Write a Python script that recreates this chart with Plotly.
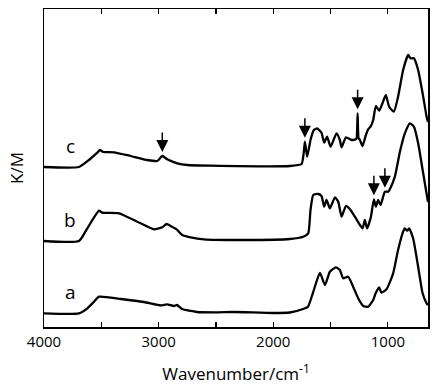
import numpy as np
import plotly.graph_objects as go

# Wavenumbers (cm-1) and K/M values (arbitrary units, offsets included)
wn_a = [4000, 3695, 3622, 3564, 3520, 3330, 3128, 2980, 2927, 2866, 2840, 2796, 2666, 2490, 2343, 2000, 1855,
        1739, 1697, 1654, 1593, 1549, 1506, 1454, 1419, 1390, 1346, 1303, 1259, 1215, 1172, 1128, 1105,
        1076, 1056, 1012, 954, 911, 867, 852, 832, 815, 780, 736, 697, 662, 650]
km_a = [13.7, 13.7, 18.7, 25.3, 30.3, 28.0, 25.0, 21.7, 22.7, 21.0, 22.0, 18.0, 15.0, 14.7, 15.0, 14.0, 14.5,
        18.0, 20.3, 34.0, 54.0, 42.0, 55.3, 59.7, 57.0, 48.7, 50.3, 40.3, 28.7, 21.0, 20.3, 27.0, 34.3,
        39.7, 34.3, 37.7, 53.7, 77.0, 95.3, 98.7, 96.3, 98.7, 88.7, 60.3, 33.7, 23.7, 22.0]

wn_b = [4000, 3695, 3622, 3520, 3492, 3346, 3186, 3041, 2997, 2968, 2930, 2895, 2843, 2794, 2721, 2605, 2256,
        1855, 1739, 1695, 1675, 1651, 1608, 1579, 1556, 1535, 1506, 1462, 1433, 1404, 1366, 1331, 1288,
        1244, 1221, 1201, 1181, 1148, 1122, 1105, 1085, 1064, 1026, 997, 983, 939, 895, 852, 808, 773,
        736, 692, 657, 650]
km_b = [86.0, 86.0, 98.7, 116.3, 114.3, 113.7, 105.3, 97.7, 98.7, 99.7, 103.0, 101.0, 97.7, 92.0, 89.7, 87.7, 87.0,
        88.0, 90.3, 93.7, 117.0, 132.0, 133.0, 131.0, 120.3, 127.0, 118.7, 129.7, 125.3, 110.3, 121.0, 117.7, 110.3,
        102.0, 98.7, 107.0, 98.7, 110.3, 127.7, 120.3, 127.0, 122.0, 135.3, 135.3, 137.7, 150.3, 175.3, 193.7, 203.7, 200.3,
        183.7, 153.7, 129.7, 125.0]

wn_c = [4000, 3695, 3608, 3535, 3512, 3483, 3390, 3244, 3099, 3012, 2968, 2925, 2837, 2750, 2547, 1855,
        1753, 1733, 1724, 1704, 1675, 1646, 1617, 1579, 1556, 1530, 1500, 1448, 1419, 1404, 1366, 1317,
        1279, 1272, 1264, 1256, 1244, 1221, 1192, 1172, 1151, 1128, 1105, 1076, 1047, 1018, 989, 948, 911,
        867, 823, 803, 773, 736, 697, 662, 650]
km_c = [160.0, 160.0, 167.0, 174.3, 177.0, 175.0, 174.7, 171.0, 167.0, 166.0, 171.0, 167.7, 163.7, 162.0, 161.3, 161.0,
        163.0, 175.3, 185.3, 170.3, 187.0, 197.0, 198.7, 194.3, 184.3, 190.3, 180.3, 193.7, 187.0, 179.7, 189.7, 187.0,
        187.7, 189.0, 213.7, 189.0, 187.0, 181.0, 192.0, 197.7, 200.3, 207.0, 221.0, 216.3, 223.7, 232.0, 220.3, 215.3, 230.3,
        257.0, 272.0, 268.7, 268.7, 257.0, 233.7, 210.3, 205.0]

series_names = ["a", "b", "c"]
arrows_b = [1122, 1026]
arrows_c = [2968, 1724, 1264]

major_ticks = [4000, 3000, 2000, 1000]
minor_ticks = [3500, 2500, 1500]

FONT = "Open Sans, Noto Sans, DejaVu Sans, sans-serif"

fig = go.Figure()
for wn, km in [(wn_a, km_a), (wn_b, km_b), (wn_c, km_c)]:
    fig.add_trace(go.Scatter(x=wn, y=km, mode="lines",
                             line=dict(color="black", width=2.3, shape="spline", smoothing=0.5),
                             showlegend=False, hoverinfo="skip"))

def peak_val(wn, km, w):
    return float(np.interp(w, wn[::-1], km[::-1]))

for wn, km, arr in [(wn_b, km_b, arrows_b), (wn_c, km_c, arrows_c)]:
    for w in arr:
        fig.add_annotation(x=w, y=peak_val(wn, km, w), text="", showarrow=True,
                           ax=0, ay=-25, arrowhead=2, arrowsize=1.6, arrowwidth=1.5,
                           arrowcolor="black", standoff=4)

for name, km in zip(series_names, [km_a, km_b, km_c]):
    fig.add_annotation(x=3770, y=km[0] + 21, text=name, showarrow=False,
                       font=dict(family=FONT, size=19, color="black"))

fig.update_layout(
    width=438, height=390,
    margin=dict(l=44, r=10, t=9, b=63),
    paper_bgcolor="white", plot_bgcolor="white",
    font=dict(family=FONT, color="black"),
    hovermode=False,
)
fig.update_xaxes(range=[4000, 650], tickmode="array", tickvals=major_ticks,
                 ticks="inside", ticklen=5, tickwidth=1.2, tickcolor="black",
                 minor=dict(tickmode="array", tickvals=minor_ticks, ticks="inside",
                            ticklen=5, tickwidth=1.2, tickcolor="black", showgrid=False),
                 showline=True, linewidth=1.5, linecolor="black", mirror="ticks",
                 showgrid=False, zeroline=False, automargin=False,
                 tickfont=dict(size=15, family=FONT),
                 title=dict(text="Wavenumber/cm<sup>-1</sup>", font=dict(size=17, family=FONT), standoff=18))
fig.update_yaxes(range=[0, 318], showticklabels=False, ticks="",
                 showline=True, linewidth=1.5, linecolor="black", mirror=True,
                 showgrid=False, zeroline=False, automargin=False,
                 title=dict(text="K/M", font=dict(size=17, family=FONT), standoff=14))

fig.write_html("out.html", config={"displayModeBar": False, "staticPlot": True},
               post_script="document.body.style.margin='0';")
